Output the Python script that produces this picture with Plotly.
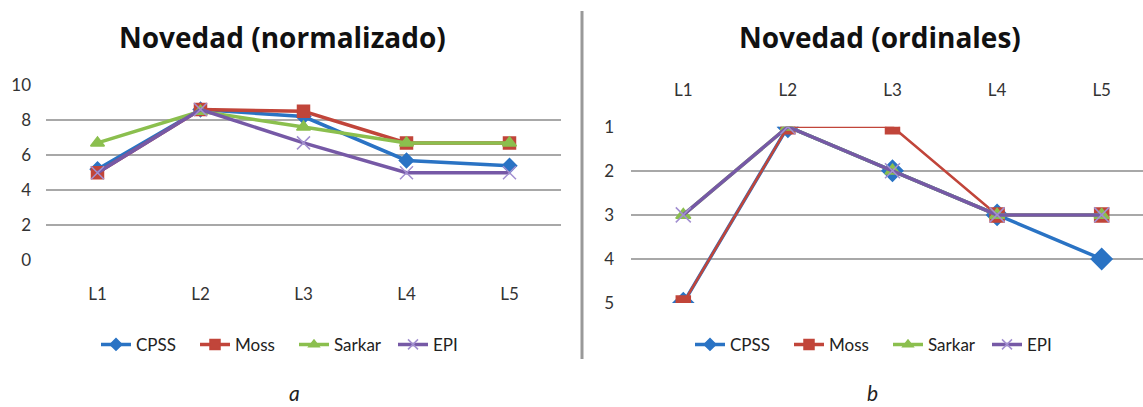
import plotly.graph_objects as go

W, H = 1143, 407

# Shared categories
levels = ["L1", "L2", "L3", "L4", "L5"]
series_names = ["CPSS", "Moss", "Sarkar", "EPI"]

# Novedad (normalizado)
norm_cpss = [5.2, 8.6, 8.2, 5.7, 5.4]
norm_moss = [5.0, 8.6, 8.5, 6.7, 6.7]
norm_sarkar = [6.7, 8.5, 7.6, 6.7, 6.7]
norm_epi = [5.0, 8.6, 6.7, 5.0, 5.0]

# Novedad (ordinales)
ord_cpss = [5, 1, 2, 3, 4]
ord_moss = [5, 1, 1, 3, 3]
ord_sarkar = [3, 1, 2, 3, 3]
ord_epi = [3, 1, 2, 3, 3]

left_ticks = [0, 2, 4, 6, 8, 10]
right_ticks = [1, 2, 3, 4, 5]

colors = ["#2a73c4", "#c1453a", "#8bbf4e", "#7659a6"]
marker_colors = ["#2a73c4", "#c1453a", "#8bbf4e", "#a28fd0"]
symbols = ["diamond", "square", "triangle-up", "x-thin"]
FONT = "Lato"
TITLE_FONT = "Open Sans"


def px_x(p):
    return p / W


def px_y(p):
    return 1 - p / H


fig = go.Figure()

left_sets = [norm_cpss, norm_moss, norm_sarkar, norm_epi]
right_sets = [ord_cpss, ord_moss, ord_sarkar, ord_epi]
left_sizes = [11, 12, 12, 13]
right_sizes = [16, 14, 13, 15]
legend_sizes = [9, 10, 9, 10]

# data traces (legend keys are drawn by the key-only traces below)
for i, name in enumerate(series_names):
    fig.add_trace(go.Scatter(
        x=levels, y=left_sets[i], name=name, mode="lines+markers",
        xaxis="x", yaxis="y", showlegend=False,
        line=dict(color=colors[i], width=3.5),
        marker=dict(symbol=symbols[i], size=left_sizes[i], color=marker_colors[i],
                    line=dict(color=marker_colors[i], width=1.5)),
    ))

for i, name in enumerate(series_names):
    fig.add_trace(go.Scatter(
        x=levels, y=right_sets[i], name=name, mode="lines+markers",
        xaxis="x2", yaxis="y2", showlegend=False,
        line=dict(color=colors[i], width=3.5 if i != 1 else 2.5),
        marker=dict(symbol=symbols[i], size=right_sizes[i], color=marker_colors[i],
                    line=dict(color=marker_colors[i], width=1.5)),
    ))

# legend keys with small markers, one set per panel
for leg, xa, ya in (("legend", "x", "y"), ("legend2", "x2", "y2")):
    for i, name in enumerate(series_names):
        fig.add_trace(go.Scatter(
            x=[None], y=[None], name=name, mode="lines+markers",
            xaxis=xa, yaxis=ya, legend=leg, hoverinfo="skip",
            line=dict(color=colors[i], width=3.5),
            marker=dict(symbol=symbols[i], size=legend_sizes[i], color=marker_colors[i],
                        line=dict(color=marker_colors[i], width=1.5)),
        ))

grid = "#a8a8a8"
tick_font = dict(family=FONT, size=17, color="#333333")
legend_font = dict(family=FONT, size=17, color="#222222")

fig.update_layout(
    width=W, height=H,
    margin=dict(l=0, r=0, t=0, b=0),
    paper_bgcolor="white", plot_bgcolor="white",
    showlegend=True,
    xaxis=dict(
        domain=[px_x(46), px_x(561)], anchor="y",
        type="category", categoryorder="array", categoryarray=levels,
        range=[-0.5, 4.5],
        showgrid=False, showline=False, zeroline=False, ticks="",
        tickfont=tick_font, ticklabelstandoff=22,
    ),
    yaxis=dict(
        domain=[px_y(263), px_y(78)], anchor="x",
        range=[0, 10], tickvals=left_ticks,
        showgrid=True, gridcolor=grid, gridwidth=2,
        showline=False, zeroline=False, ticks="",
        tickfont=tick_font, ticklabelstandoff=14,
    ),
    xaxis2=dict(
        domain=[px_x(631), 1.0], anchor="y2", side="top",
        type="category", categoryorder="array", categoryarray=levels,
        range=[-0.5, 4.395],
        showgrid=False, showline=False, zeroline=False, ticks="",
        tickfont=tick_font, ticklabelstandoff=26,
    ),
    yaxis2=dict(
        domain=[px_y(308), px_y(122)], anchor="x2",
        range=[5, 1], tickvals=right_ticks,
        showgrid=True, gridcolor=grid, gridwidth=2,
        showline=False, zeroline=False, ticks="",
        tickfont=tick_font, ticklabelstandoff=16,
    ),
    legend=dict(
        orientation="h", x=px_x(294), xanchor="center",
        y=px_y(352), yanchor="middle",
        font=legend_font, entrywidth=54,
        tracegroupgap=0, bgcolor="rgba(0,0,0,0)",
    ),
    legend2=dict(
        orientation="h", x=px_x(888), xanchor="center",
        y=px_y(352), yanchor="middle",
        font=legend_font, entrywidth=54,
        tracegroupgap=0, bgcolor="rgba(0,0,0,0)",
    ),
    annotations=[
        dict(text="<b>Novedad (normalizado)</b>", x=px_x(282), y=px_y(27),
             xref="paper", yref="paper", showarrow=False,
             xanchor="center", yanchor="middle",
             font=dict(family=TITLE_FONT, size=28, color="#111111")),
        dict(text="<b>Novedad (ordinales)</b>", x=px_x(880), y=px_y(27),
             xref="paper", yref="paper", showarrow=False,
             xanchor="center", yanchor="middle",
             font=dict(family=TITLE_FONT, size=28, color="#111111")),
        dict(text="<i>a</i>", x=px_x(294), y=px_y(402),
             xref="paper", yref="paper", showarrow=False,
             xanchor="center", yanchor="middle",
             font=dict(family=FONT, size=21, color="#222222")),
        dict(text="<i>b</i>", x=px_x(872), y=px_y(402),
             xref="paper", yref="paper", showarrow=False,
             xanchor="center", yanchor="middle",
             font=dict(family=FONT, size=21, color="#222222")),
    ],
    shapes=[
        dict(type="line", xref="paper", yref="paper",
             x0=px_x(582), x1=px_x(582), y0=1, y1=px_y(367),
             line=dict(color="#999999", width=3)),
    ],
)

fig.write_html("out.html")
